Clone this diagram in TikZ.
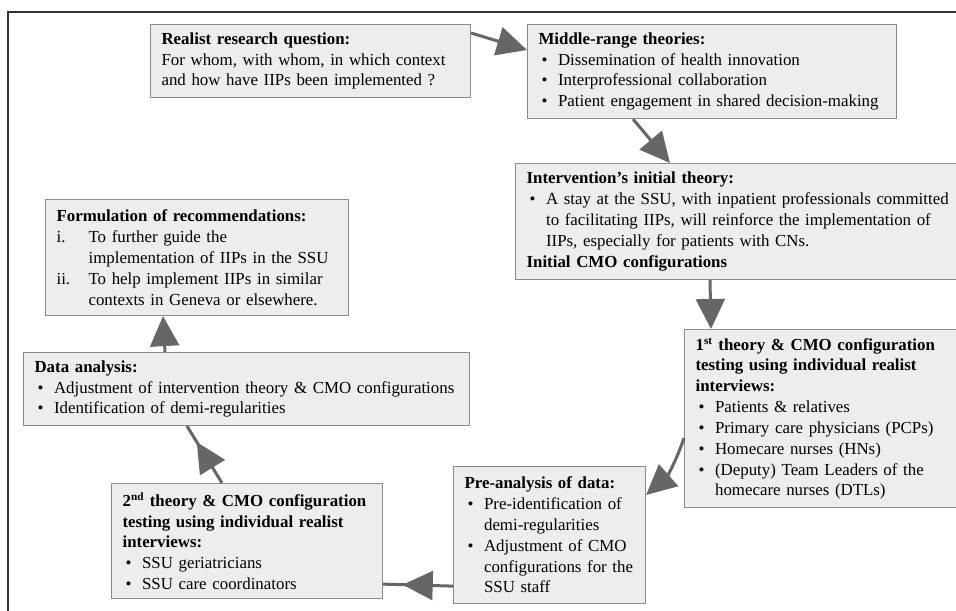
\documentclass[tikz,border=0pt]{standalone}
\usepackage{fontspec}
\setmainfont{Liberation Serif}
\usetikzlibrary{arrows.meta, calc, decorations.markings}

\definecolor{boxfill}{HTML}{EDEDED}
\definecolor{boxgray}{HTML}{8C8C8C}
\definecolor{arrowgray}{HTML}{666666}
\definecolor{framegray}{HTML}{333333}

\newlength{\pxu}\setlength{\pxu}{0.025cm}
\newcommand{\hd}[1]{\mbox{\textbf{#1}}}
\newcommand{\bitem}[1]{\makebox[19.5\pxu][l]{\hspace{3\pxu}\textbullet}\mbox{#1}}
\newcommand{\bcont}[1]{\hspace*{19.5\pxu}\mbox{#1}}
\newcommand{\ritem}[2]{\makebox[32\pxu][l]{#1}\mbox{#2}}
\newcommand{\rcont}[1]{\hspace*{32\pxu}\mbox{#1}}

\begin{document}
\begin{tikzpicture}[x=0.025cm, y=0.025cm,
    stagebox/.style={draw=boxgray, fill=boxfill, line width=0.8pt, anchor=north west,
        align=left, inner xsep=11\pxu, inner ysep=0pt, font=\fontsize{12}{14.8}\selectfont},
    flow/.style={draw=arrowgray, line width=0.075cm, -{Triangle[length=0.75cm, width=0.72cm]}},
    midflow/.style={draw=arrowgray, line width=0.075cm, postaction={decorate},
        decoration={markings, mark=at position #1 with {\arrow{Triangle[length=0.75cm, width=0.72cm]}}}}]
    \useasboundingbox (0,0) rectangle (956,-611);

    % Frame
    \draw[framegray, line width=0.8pt] (8,-611) -- (8,-12) -- (960,-12);

    % Research question and theories
    \node[stagebox, text width=298\pxu, minimum height=73\pxu] (rq) at (150,-24)
        {\hd{Realist research question:}\\
         \mbox{For whom, with whom, in which context}\\
         \mbox{and how have IIPs been implemented ?}};
    \node[stagebox, text width=347\pxu, minimum height=94\pxu] (mrt) at (527,-24)
        {\hd{Middle-range theories:}\\
         \bitem{Dissemination of health innovation}\\
         \bitem{Interprofessional collaboration}\\
         \bitem{Patient engagement in shared decision-making}};
    \node[stagebox, text width=423\pxu, minimum height=116\pxu] (init) at (515,-163)
        {\hd{Intervention's initial theory:}\\
         \bitem{A stay at the SSU, with inpatient professionals committed}\\
         \bcont{to facilitating IIPs, will reinforce the implementation of}\\
         \bcont{IIPs, especially for patients with CNs.}\\
         \hd{Initial CMO configurations}};

    % Testing and analysis
    \node[stagebox, text width=254\pxu, minimum height=178\pxu] (first) at (684,-329)
        {\hd{1\textsuperscript{st} theory \& CMO configuration}\\
         \hd{testing using individual realist}\\
         \hd{interviews:}\\
         \bitem{Patients \& relatives}\\
         \bitem{Primary care physicians (PCPs)}\\
         \bitem{Homecare nurses (HNs)}\\
         \bitem{(Deputy) Team Leaders of the}\\
         \bcont{homecare nurses (DTLs)}};
    \node[stagebox, text width=170\pxu, minimum height=137\pxu] (pre) at (453,-466)
        {\hd{Pre-analysis of data:}\\
         \bitem{Pre-identification of}\\
         \bcont{demi-regularities}\\
         \bitem{Adjustment of CMO}\\
         \bcont{configurations for the}\\
         \bcont{SSU staff}};
    \node[stagebox, text width=249\pxu, minimum height=115\pxu] (second) at (111,-483)
        {\hd{2\textsuperscript{nd} theory \& CMO configuration}\\
         \hd{testing using individual realist}\\
         \hd{interviews:}\\
         \bitem{SSU geriatricians}\\
         \bitem{SSU care coordinators}};
    \node[stagebox, text width=424\pxu, minimum height=73\pxu] (data) at (23,-352)
        {\hd{Data analysis:}\\
         \bitem{Adjustment of intervention theory \& CMO configurations}\\
         \bitem{Identification of demi-regularities}};
    \node[stagebox, text width=281\pxu, minimum height=116\pxu] (recs) at (45,-199)
        {\hd{Formulation of recommendations:}\\
         \ritem{i.}{To further guide the}\\
         \rcont{implementation of IIPs in the SSU}\\
         \ritem{ii.}{To help implement IIPs in similar}\\
         \rcont{contexts in Geneva or elsewhere.}};

    % Cycle arrows
    \draw[flow] ($(rq.north east)+(0,-9)$) -- ($(mrt.north west)+(0,-26)$);
    \draw[flow] ($(mrt.south west)+(106,0)$) -- ($(init.north west)+(155,0)$);
    \draw[flow] ($(init.south west)+(195,0)$) -- ($(first.north west)+(27,0)$);
    \draw[flow] ($(first.north west)+(0,-109)$) to[bend left=15] ($(pre.north east)+(0,-29)$);
    \draw[midflow=0.72] ($(pre.south west)+(0,18)$) -- ($(second.south east)+(0,15)$);
    \draw[midflow=0.72] ($(second.north west)+(111,0)$) -- ($(data.south west)+(164,0)$);
    \draw[flow] ($(data.north west)+(142,0)$) -- ($(recs.south west)+(118,0)$);
\end{tikzpicture}
\end{document}
